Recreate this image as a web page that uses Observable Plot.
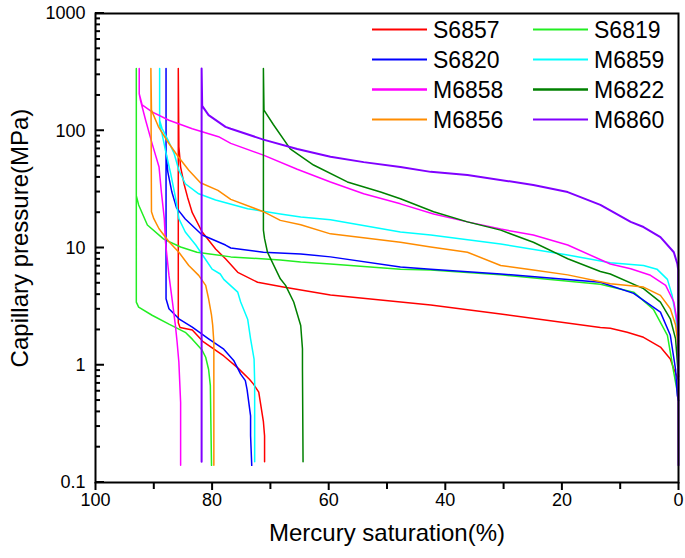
<!DOCTYPE html>
<html><head><meta charset="utf-8">
<script src="https://cdn.jsdelivr.net/npm/d3@7"></script>
<script src="https://cdn.jsdelivr.net/npm/@observablehq/plot@0.6"></script>
<style>body{margin:0;background:#fff;} svg{display:block;}</style>
</head><body><div id="chart"></div>
<script>
// legend order (row-major, two columns)
const sampleNames = ["S6857", "S6819", "S6820", "M6859", "M6858", "M6822", "M6856", "M6860"];
const sampleColors = ["#ff0000", "#22ee22", "#0000ff", "#00ffff", "#ff00ff", "#008000", "#ff8c00", "#8000ff"];

// [mercury saturation %, capillary pressure MPa] — injection then withdrawal
const S6857 = [[0,0.75],[0.8,0.93],[1.4,1.13],[3.1,1.43],[6.0,1.73],[8.8,1.91],[11.7,2.07],[13.4,2.1],[30.5,2.73],[42.5,3.26],[59.7,3.97],[67.8,4.64],[72.2,5.1],[75.6,6.2],[77.7,8.1],[79.4,9.8],[81.7,13.7],[83.4,20],[84.2,27],[84.8,35],[85.4,49],[85.7,73],[85.8,340],
  [85.8,2.3],[85.5,2.1],[83.4,2.0],[81.6,1.6],[78.0,1.2],[75.6,0.95],[73.6,0.76],[72.9,0.69],[72.0,0.59],[71.2,0.33],[71.0,0.25],[71.0,0.15]];
const S6819 = [[0,0.5],[0.2,0.59],[0.9,0.92],[1.9,1.8],[4.3,3.0],[7.7,4.2],[13.4,4.9],[30.5,5.9],[42.5,6.5],[47.7,6.6],[59.7,7.3],[64.8,7.6],[68.3,7.9],[76.8,8.4],[82.6,9.2],[85.4,10.2],[88.3,11.9],[91.1,15.7],[92.6,23.3],[93.0,28],[93.0,340],
  [93.0,3.45],[92.6,3.13],[90.3,2.67],[87.4,2.24],[84.6,1.91],[83.4,1.67],[81.7,1.34],[81.1,1.17],[80.6,0.92],[80.3,0.67],[80.1,0.14]];
const S6820 = [[0,0.5],[0.2,0.55],[0.5,0.92],[1.4,1.8],[3.1,2.84],[7.7,4.1],[13.4,5.1],[30.5,6.0],[42.5,6.6],[47.7,6.9],[59.7,8.4],[64.8,8.9],[71.2,9.2],[76.8,10.0],[77.7,10.6],[81.7,12.9],[84.6,17.7],[86.1,22],[86.9,30],[87.6,44.6],[87.9,66],[87.9,340],
  [87.9,3.69],[87.4,3.03],[85.7,2.49],[83.4,2.11],[80.6,1.68],[78.0,1.37],[76.3,1.1],[75.1,0.84],[74.3,0.74],[74.0,0.62],[73.4,0.37],[73.4,0.25],[73.2,0.14]];
const M6859 = [[0,1.6],[0.2,1.91],[0.5,2.67],[1.1,3.96],[1.9,5.4],[3.7,6.6],[6.0,7.1],[11.7,7.5],[19.0,8.7],[30.5,10.8],[42.5,12.9],[47.7,13.7],[59.7,17.4],[64.8,18.4],[68.3,19.5],[73.9,21.6],[79.4,25.7],[82.3,29],[84.6,35.3],[85.7,46],[86.5,63.6],[87.6,84],[88.6,105],[89.0,123],[89.0,340],
  [89.0,110],[88.6,95],[88.0,68],[87.1,43],[86.3,27.3],[85.7,17.8],[84.6,13.7],[82.8,10.6],[81.2,8.1],[80.0,6.6],[78.6,6.0],[78.0,5.4],[75.6,4.2],[75.1,3.46],[73.9,2.47],[73.4,1.68],[72.8,1.13],[72.7,0.72],[72.7,0.15]];
const M6858 = [[0,1.8],[0.2,2.33],[0.8,3.46],[2.2,4.8],[4.8,5.85],[8.2,6.65],[11.7,7.3],[19.0,10.6],[24.9,12.9],[30.5,14.5],[36.2,16.7],[42.0,19.5],[47.7,23.8],[54.0,29],[59.7,36.6],[65.4,47],[71.2,62],[76.8,78],[78.9,89],[83.4,104],[87.4,123],[90.3,145],[92.0,166],[92.5,207],[92.5,340],
  [92.5,207],[92.3,183],[91.4,123],[90.3,78],[89.1,49],[88.7,30],[88.4,22],[88.2,17.8],[88.0,11.3],[87.4,5.84],[86.8,3.46],[86.3,2.2],[86.0,1.57],[85.7,1.06],[85.4,0.48],[85.4,0.14]];
const M6822 = [[0,0.8],[0.2,1.06],[0.5,1.68],[1.4,2.49],[3.1,3.46],[6.0,4.5],[11.7,6.0],[13.4,6.3],[19.0,8.1],[24.9,11.2],[30.5,14.2],[36.2,16.7],[42.0,20.4],[47.7,26.3],[51.1,30],[56.8,36.6],[62.6,51],[66.6,70],[69.5,113],[71.1,150],[71.2,340],
  [71.2,14.2],[71.0,12],[70.5,9.2],[68.3,5.46],[67.4,4.8],[66.0,3.46],[64.8,2.18],[64.5,1.38],[64.5,0.93],[64.4,0.15]];
const M6856 = [[0,1.2],[0.2,1.68],[0.5,2.2],[1.4,3.03],[3.1,3.94],[6.0,4.64],[11.7,4.95],[19.0,5.9],[24.9,6.5],[30.5,7.1],[36.2,9.2],[42.5,10.2],[47.7,11.2],[59.7,13.2],[64.8,15.8],[68.3,17.2],[71.2,20.4],[76.8,26],[79.0,31],[82.0,36],[84.0,46],[85.8,60],[87.5,79],[89.2,108],[90.4,150],[90.5,340],
  [90.4,20.4],[90.0,17.8],[89.1,14.6],[87.4,11.3],[85.7,9.2],[84.0,7.1],[82.3,5.84],[81.1,4.8],[80.6,3.69],[80.1,2.67],[79.9,2.2],[79.7,1.57],[79.7,0.14]];
const M6860 = [[0,0.14],[0.05,6.5],[0.2,7.35],[0.8,9.2],[3.1,12.4],[6.0,15.1],[8.2,16.7],[13.4,23.3],[19.0,30],[24.9,34.5],[36.2,42],[42.5,44.6],[47.7,49],[54.0,54],[59.7,60],[65.4,70],[71.2,84],[76.8,104],[77.7,108],[80.6,136],[81.7,163],[81.8,340],
  [81.8,0.15]];

const sampleData = {S6857, S6819, S6820, M6859, M6858, M6822, M6856, M6860};

const xMajorTicks = [100, 80, 60, 40, 20, 0];
const xMinorTicks = [90, 70, 50, 30, 10];
const yMajorTicks = [0.1, 1, 10, 100, 1000];
const yMinorTicks = [0.2,0.3,0.4,0.5,0.6,0.7,0.8,0.9, 2,3,4,5,6,7,8,9, 20,30,40,50,60,70,80,90, 200,300,400,500,600,700,800,900];
const xTitle = "Mercury saturation(%)";
const yTitle = "Capillary pressure(MPa)";

const rows = sampleNames.flatMap(name => sampleData[name].map(([sat, p], i) => ({name, sat, p, i})));

const W = 685, H = 558, ML = 95, MR = 7, MT = 13, MB = 76;
const font = "'Liberation Sans', Arial, Helvetica, sans-serif";

const chart = Plot.plot({
  width: W, height: H,
  marginLeft: ML, marginRight: MR, marginTop: MT, marginBottom: MB,
  style: {fontFamily: font, background: "#fff", color: "#000"},
  x: {domain: [100, 0]},
  y: {type: "log", domain: [0.1, 1000]},
  color: {domain: sampleNames, range: sampleColors},
  marks: [
    Plot.line(rows, {x: "sat", y: "p", z: "name", stroke: "name",
      strokeWidth: d => d.name === "M6860" ? 2 : 1.5, curve: "linear"}),
    Plot.frame({stroke: "#000", strokeWidth: 2}),
    Plot.axisY(yMajorTicks, {tickSize: 0, tickPadding: 10, fontSize: 18, label: null, tickFormat: d => String(d)}),
    Plot.axisX(xMajorTicks, {tickSize: 8, tickPadding: 3, fontSize: 18, label: null, strokeWidth: 2, tickFormat: d => String(d)}),
    Plot.axisX(xMinorTicks, {tickSize: 7, text: null, label: null, strokeWidth: 2}),
    Plot.text([xTitle], {frameAnchor: "bottom", textAnchor: "middle", dy: 58, fontSize: 24}),
    Plot.text([yTitle], {frameAnchor: "left", textAnchor: "middle", dx: -75, dy: -10, rotate: -90, fontSize: 24})
  ]
});

const svg = d3.select(chart);
const ys = chart.scale("y");

// inward tick marks on the left axis, placed through the chart's y scale
const ticks = svg.append("g").attr("stroke", "#000").attr("fill", "none");
yMajorTicks.forEach(v => ticks.append("line").attr("x1", ML).attr("x2", ML + 9).attr("y1", ys.apply(v)).attr("y2", ys.apply(v)).attr("stroke-width", 2));
yMinorTicks.forEach(v => ticks.append("line").attr("x1", ML).attr("x2", ML + 5).attr("y1", ys.apply(v)).attr("y2", ys.apply(v)).attr("stroke-width", 2));

// in-plot legend, two columns
const leg = svg.append("g").attr("font-family", font).attr("font-size", 23).attr("text-anchor", "start");
sampleNames.forEach((name, i) => {
  const col = i % 2, row = Math.floor(i / 2);
  const x0 = col ? 533 : 372;
  const y0 = 29.5 + row * 30;
  leg.append("line").attr("x1", x0).attr("x2", x0 + 55).attr("y1", y0).attr("y2", y0)
    .attr("stroke", sampleColors[i]).attr("stroke-width", (name === "M6858" || name === "M6822") ? 2.5 : 1.8);
  leg.append("text").attr("x", x0 + 61).attr("y", y0).attr("dy", "0.36em").attr("fill", "#000").text(name);
});

document.getElementById("chart").appendChild(chart);
</script>
</body></html>
